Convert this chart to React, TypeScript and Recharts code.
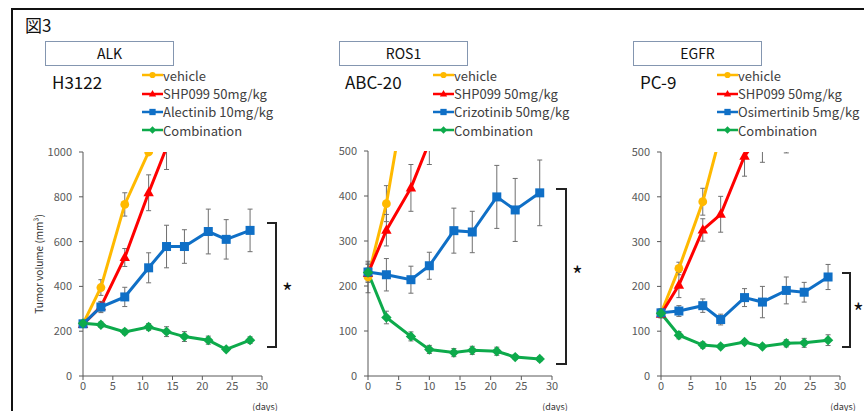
import React from "react";
import { LineChart, Line, XAxis, YAxis, ErrorBar, Legend } from "recharts";

const FONT = '"Noto Sans CJK JP", "Noto Sans", sans-serif';

const ORANGE = "#FFB900";
const RED = "#FF0000";
const BLUE = "#0F6FC6";
const GREEN = "#0DAA4B";
const ERR = "#6f6f6f";
const AXIS = "#595959";

const xTicks = [0, 5, 10, 15, 20, 25, 30];

// ALK / H3122
const alkDays = [0, 3, 7, 11, 14, 17, 21, 24, 28];
const alkVehicle = [233, 395, 766, 1000];
const alkVehicleErr = [0, 35, 52, 0];
const alkShp = [230, 310, 529, 818, 1020];
const alkShpErr = [0, 20, 40, 80, 98];
const alkDrug = [233, 308, 353, 483, 578, 578, 645, 610, 650];
const alkDrugErr = [10, 25, 43, 67, 95, 75, 100, 88, 95];
const alkCombo = [235, 229, 197, 219, 198, 176, 160, 119, 160];
const alkComboErr = [8, 12, 12, 15, 22, 22, 18, 8, 15];
const alkTicks = [0, 200, 400, 600, 800, 1000];

// ROS1 / ABC-20
const rosDays = [0, 3, 7, 10, 14, 17, 21, 24, 28];
const rosVehicle = [220, 383, 700];
const rosVehicleErr = [35, 40, 0];
const rosShp = [228, 324, 418, 520];
const rosShpErr = [20, 35, 52, 50];
const rosDrug = [231, 225, 214, 245, 323, 320, 398, 369, 407];
const rosDrugErr = [20, 36, 30, 30, 50, 46, 70, 70, 73];
const rosCombo = [230, 130, 88, 59, 52, 57, 55, 42, 38];
const rosComboErr = [10, 14, 10, 9, 9, 9, 9, 5, 5];
const rosTicks = [0, 100, 200, 300, 400, 500];

// EGFR / PC-9
const egfrDays = [0, 3, 7, 10, 14, 17, 21, 24, 28];
const egfrVehicle = [140, 240, 389, 540];
const egfrVehicleErr = [10, 14, 30, 0];
const egfrShp = [138, 203, 326, 361, 491, 545, 570];
const egfrShpErr = [8, 28, 25, 40, 45, 68, 72];
const egfrDrug = [141, 145, 157, 126, 175, 165, 191, 187, 221];
const egfrDrugErr = [8, 12, 15, 12, 20, 35, 30, 22, 28];
const egfrCombo = [140, 91, 69, 66, 76, 66, 73, 74, 80];
const egfrComboErr = [8, 8, 7, 5, 5, 5, 8, 10, 12];
const egfrTicks = [0, 100, 200, 300, 400, 500];

const SERIES = ["vehicle", "shp", "drug", "combo"];
const SHAPE: Record<string, string> = {
  vehicle: "circle",
  shp: "triangle",
  drug: "square",
  combo: "diamond",
};
const COLOR: Record<string, string> = {
  vehicle: ORANGE,
  shp: RED,
  drug: BLUE,
  combo: GREEN,
};

function buildRows(
  days: number[],
  v: number[], vE: number[],
  s: number[], sE: number[],
  d: number[], dE: number[],
  c: number[], cE: number[]
) {
  return days.map((day, i) => ({
    day,
    vehicle: v[i], vehicleErr: vE[i] || undefined,
    shp: s[i], shpErr: sE[i] || undefined,
    drug: d[i], drugErr: dE[i] || undefined,
    combo: c[i], comboErr: cE[i] || undefined,
  }));
}

function Marker({ shape, cx, cy, k, color }: { shape: string; cx: number; cy: number; k: number; color: string }) {
  if (shape === "circle") return <circle cx={cx} cy={cy} r={4.4 * k} fill={color} />;
  if (shape === "triangle")
    return (
      <polygon
        points={`${cx},${cy - 5.8 * k} ${cx - 5.2 * k},${cy + 3.6 * k} ${cx + 5.2 * k},${cy + 3.6 * k}`}
        fill={color}
      />
    );
  if (shape === "square")
    return <rect x={cx - 4.5 * k} y={cy - 4.5 * k} width={9 * k} height={9 * k} fill={color} />;
  return (
    <polygon
      points={`${cx},${cy - 5.2 * k} ${cx + 5.2 * k},${cy} ${cx},${cy + 5.2 * k} ${cx - 5.2 * k},${cy}`}
      fill={color}
    />
  );
}

const makeDot = (key: string, max: number) => (props: any) => {
  const { cx, cy, value, index } = props;
  const v = Array.isArray(value) ? value[1] : value;
  if (cx == null || cy == null || v == null || v > max) return <g key={`d-${key}-${index}`} />;
  return (
    <g key={`d-${key}-${index}`}>
      <Marker shape={SHAPE[key]} cx={cx} cy={cy} k={1} color={COLOR[key]} />
    </g>
  );
};

function LegendContent(props: any) {
  const payload = [...(props.payload || [])].sort(
    (a: any, b: any) => SERIES.indexOf(a.dataKey) - SERIES.indexOf(b.dataKey)
  );
  return (
    <div style={{ fontFamily: FONT, fontSize: 13, color: "#404040" }}>
      {payload.map((entry: any) => (
        <div key={entry.dataKey} style={{ display: "flex", alignItems: "center", height: 18.4, whiteSpace: "nowrap" }}>
          <svg width={21} height={10} style={{ display: "block" }}>
            <line x1={0} y1={5} x2={21} y2={5} stroke={COLOR[entry.dataKey]} strokeWidth={2.5} />
            <Marker shape={SHAPE[entry.dataKey]} cx={10.5} cy={5} k={0.7} color={COLOR[entry.dataKey]} />
          </svg>
          <span>{entry.value}</span>
        </div>
      ))}
    </div>
  );
}

function YTitle(props: any) {
  const { viewBox } = props;
  const x = viewBox.x + 15;
  const y = viewBox.y + viewBox.height / 2;
  return (
    <text
      x={x}
      y={y}
      transform={`rotate(-90 ${x} ${y})`}
      textAnchor="middle"
      dominantBaseline="central"
      fontSize={10}
      fill="#333"
      fontFamily={FONT}
    >
      Tumor volume (mm³)
    </text>
  );
}

function DaysTitle(props: any) {
  const { viewBox } = props;
  return (
    <text
      x={viewBox.x + viewBox.width + 3}
      y={viewBox.y + 30}
      textAnchor="middle"
      dominantBaseline="central"
      fontSize={9}
      fill="#333"
      fontFamily={FONT}
    >
      (days)
    </text>
  );
}

interface PanelProps {
  id: string;
  left: number;
  plotTop: number;
  plotWidth: number;
  yMax: number;
  yTicks: number[];
  rows: any[];
  drugName: string;
  legendLeft: number;
  showYTitle?: boolean;
}

function Panel({ id, left, plotTop, plotWidth, yMax, yTicks, rows, drugName, legendLeft, showYTitle }: PanelProps) {
  const names: Record<string, string> = {
    vehicle: "vehicle",
    shp: "SHP099 50mg/kg",
    drug: drugName,
    combo: "Combination",
  };
  const clipId = `eb-clip-${id}`;
  const height = 411;
  const plotHeight = height - plotTop - 35;
  return (
    <div style={{ position: "absolute", left, top: 0 }}>
      <LineChart
        width={60 + plotWidth + 30}
        height={height}
        data={rows}
        margin={{ top: plotTop, right: 30, bottom: 5, left: 0 }}
      >
        <defs>
          {/* error bars are not clipped by recharts, so keep them inside the plot */}
          <clipPath id={clipId}>
            <rect x={50} y={plotTop} width={plotWidth + 20} height={plotHeight + 10} />
          </clipPath>
        </defs>
        <XAxis
          dataKey="day"
          type="number"
          domain={[0, 30]}
          ticks={xTicks}
          interval={0}
          tickSize={4}
          tickMargin={2}
          axisLine={{ stroke: AXIS }}
          tickLine={{ stroke: AXIS }}
          tick={{ fontSize: 11, fill: AXIS, fontFamily: FONT }}
          height={30}
          label={(p: any) => <DaysTitle {...p} />}
        />
        <YAxis
          type="number"
          domain={[0, yMax]}
          ticks={yTicks}
          interval={0}
          allowDataOverflow
          width={60}
          tickSize={4}
          tickMargin={7}
          axisLine={{ stroke: AXIS }}
          tickLine={{ stroke: AXIS }}
          tick={{ fontSize: 11, fill: AXIS, fontFamily: FONT }}
          label={showYTitle ? (p: any) => <YTitle {...p} /> : undefined}
        />
        <Legend
          layout="vertical"
          align="center"
          verticalAlign="middle"
          content={<LegendContent />}
          wrapperStyle={{ position: "absolute", left: legendLeft, top: 66, width: 150 }}
        />
        {SERIES.map((key) => (
          <Line
            key={key}
            dataKey={key}
            name={names[key]}
            stroke={COLOR[key]}
            strokeWidth={3}
            dot={makeDot(key, yMax)}
            activeDot={false}
            isAnimationActive={false}
          >
            <ErrorBar
              dataKey={`${key}Err`}
              direction="y"
              width={2.5}
              stroke={ERR}
              strokeWidth={1}
              clipPath={`url(#${clipId})`}
              isAnimationActive={false}
            />
          </Line>
        ))}
      </LineChart>
    </div>
  );
}

const boxStyle: React.CSSProperties = {
  position: "absolute",
  top: 41,
  width: 129,
  height: 25,
  border: "1px solid #8496B0",
  boxSizing: "border-box",
  fontSize: 14,
  lineHeight: "23px",
  textAlign: "center",
  color: "#111",
};

const cellStyle: React.CSSProperties = {
  position: "absolute",
  top: 71,
  fontSize: 17,
  lineHeight: "22px",
  color: "#111",
};

function Bracket({ left, right, top, bottom }: { left: number; right: number; top: number; bottom: number }) {
  return (
    <div
      style={{
        position: "absolute",
        left,
        top,
        width: right - left,
        height: bottom - top,
        borderTop: "2px solid #222",
        borderRight: "2px solid #222",
        borderBottom: "2px solid #222",
        boxSizing: "border-box",
      }}
    />
  );
}

function Star({ x, y }: { x: number; y: number }) {
  return (
    <div
      style={{
        position: "absolute",
        left: x - 5,
        top: y - 8,
        width: 10,
        textAlign: "center",
        fontSize: 23,
        lineHeight: "24px",
        color: "#111",
      }}
    >
      *
    </div>
  );
}

export default function App() {
  const alkRows = buildRows(alkDays, alkVehicle, alkVehicleErr, alkShp, alkShpErr, alkDrug, alkDrugErr, alkCombo, alkComboErr);
  const rosRows = buildRows(rosDays, rosVehicle, rosVehicleErr, rosShp, rosShpErr, rosDrug, rosDrugErr, rosCombo, rosComboErr);
  const egfrRows = buildRows(egfrDays, egfrVehicle, egfrVehicleErr, egfrShp, egfrShpErr, egfrDrug, egfrDrugErr, egfrCombo, egfrComboErr);

  return (
    <div
      style={{
        position: "absolute",
        left: 0,
        top: 0,
        width: 864,
        height: 411,
        overflow: "hidden",
        background: "#fff",
        fontFamily: FONT,
      }}
    >
      <div
        style={{
          position: "absolute",
          left: 11,
          top: 8,
          width: 900,
          height: 500,
          border: "2px solid #111",
        }}
      />
      <div style={{ position: "absolute", left: 25, top: 14, fontSize: 17, lineHeight: "22px", color: "#111" }}>図3</div>

      <div style={{ ...boxStyle, left: 45 }}>ALK</div>
      <div style={{ ...cellStyle, left: 52 }}>H3122</div>
      <div style={{ ...boxStyle, left: 339 }}>ROS1</div>
      <div style={{ ...cellStyle, left: 345 }}>ABC-20</div>
      <div style={{ ...boxStyle, left: 633 }}>EGFR</div>
      <div style={{ ...cellStyle, left: 640 }}>PC-9</div>

      <Panel
        id="alk"
        left={23}
        plotTop={152}
        plotWidth={179}
        yMax={1000}
        yTicks={alkTicks}
        rows={alkRows}
        drugName="Alectinib 10mg/kg"
        legendLeft={119}
        showYTitle
      />
      <Panel
        id="ros"
        left={308}
        plotTop={151}
        plotWidth={184}
        yMax={500}
        yTicks={rosTicks}
        rows={rosRows}
        drugName="Crizotinib 50mg/kg"
        legendLeft={125}
      />
      <Panel
        id="egfr"
        left={601}
        plotTop={152}
        plotWidth={179}
        yMax={500}
        yTicks={egfrTicks}
        rows={egfrRows}
        drugName="Osimertinib 5mg/kg"
        legendLeft={116}
      />

      <Bracket left={267} right={277} top={222} bottom={348} />
      <Star x={287} y={287} />
      <Bracket left={556} right={567} top={188} bottom={365} />
      <Star x={577} y={270} />
      <Bracket left={842} right={851} top={272} bottom={348} />
      <Star x={858} y={307} />
    </div>
  );
}
